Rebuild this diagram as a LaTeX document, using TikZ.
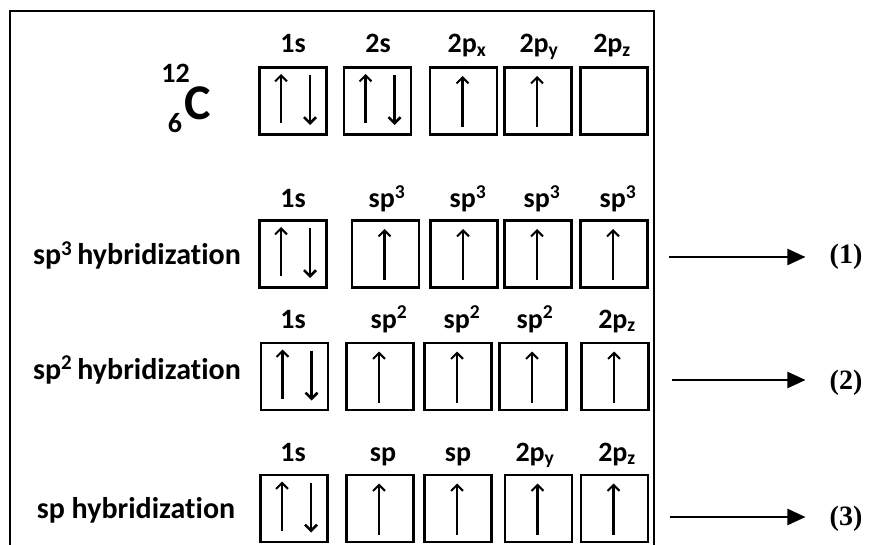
\documentclass[tikz,border=0pt]{standalone}
\usepackage{fontspec}
\setmainfont{Carlito}[Ligatures=NoCommon]
\newfontfamily\timesf{Liberation Serif}
\usetikzlibrary{arrows.meta,calc}
\newcommand\mysub[1]{\textsubscript{#1}}
\newcommand\mysup[1]{\textsuperscript{#1}}
\tikzset{
  orb/.style={draw, line width=2.6pt, minimum width=67pt, minimum height=67pt, inner sep=0pt},
  elecup/.style={line width=2.1pt, -{Straight Barb[length=6pt,width=12pt,line width=2.1pt]}},
  elecdn/.style={line width=2.5pt, -{Straight Barb[length=6pt,width=12pt,line width=2.5pt]}},
  lbl/.style={font=\bfseries\fontsize{28}{32}\selectfont, inner sep=0pt, anchor=base},
  hyb/.style={font=\bfseries\fontsize{30}{34}\selectfont, inner sep=0pt, anchor=base},
  num/.style={font=\timesf\bfseries\fontsize{28}{32}\selectfont, inner sep=0pt},
  conn/.style={line width=2.2pt, -{Triangle[length=18pt,width=16pt]}},
  frame/.style={line width=1.8pt}
}
\newcommand\myorb[4]{%
  \node[orb] (#1) at (#2,#3) {};
  \ifcase#4\relax
  \or \draw[elecup] ($(#1.center)+(-1,26)$) -- ($(#1.center)+(-1,-25)$);
  \or \draw[elecup] ($(#1.center)+(-12,22)$) -- ($(#1.center)+(-12,-27)$);
      \draw[elecdn] ($(#1.center)+(17,-26)$) -- ($(#1.center)+(17,24)$);
  \fi}
\begin{document}
\begin{tikzpicture}[x=1pt,y=-1pt]
\useasboundingbox (0,0) rectangle (870,545);
\fill[white] (0,0) rectangle (870,545);
% frame
\draw[frame] (10,545) -- (10,11) -- (654,11) -- (654,545);
% carbon
\node[font=\bfseries\fontsize{50}{54}\selectfont, inner sep=0pt, anchor=base] (cC) at (198,120) {C};
\node[lbl] (cA) at (175.5,83) {12};
\node[lbl] (cZ) at (175,133) {6};
% row 0
\myorb{a1}{293}{101}{2}
\myorb{a2}{377.5}{101}{2}
\myorb{a3}{463.5}{101}{1}
\myorb{a4}{538}{101}{1}
\myorb{a5}{614}{101}{0}
\node[lbl] (ta1) at (293,53) {1s};
\node[lbl] (ta2) at (378,53) {2s};
\node[lbl] (ta3) at (467,53) {2p\mysub{x}};
\node[lbl] (ta4) at (539,53) {2p\mysub{y}};
\node[lbl] (ta5) at (612,53) {2p\mysub{z}};
% row 1 sp3
\node[hyb] (h1) at (137,265) {sp\mysup{3}\,hybridization};
\myorb{b1}{293}{254}{2}
\myorb{b2}{385.5}{254}{1}
\myorb{b3}{464}{254}{1}
\myorb{b4}{538}{254}{1}
\myorb{b5}{614}{254}{1}
\node[lbl] (tb1) at (293,208) {1s};
\node[lbl] (tb2) at (387,208) {sp\mysup{3}};
\node[lbl] (tb3) at (468,208) {sp\mysup{3}};
\node[lbl] (tb4) at (542,208) {sp\mysup{3}};
\node[lbl] (tb5) at (618,208) {sp\mysup{3}};
% row 2 sp2
\node[hyb] (h2) at (137,379) {sp\mysup{2}\,hybridization};
\myorb{c1}{294.5}{376.5}{2}
\myorb{c2}{380}{376.5}{1}
\myorb{c3}{458}{376.5}{1}
\myorb{c4}{533}{376.5}{1}
\myorb{c5}{615}{376.5}{1}
\node[lbl] (tc1) at (293,328) {1s};
\node[lbl] (tc2) at (389,328) {sp\mysup{2}};
\node[lbl] (tc3) at (462,328) {sp\mysup{2}};
\node[lbl] (tc4) at (535,328) {sp\mysup{2}};
\node[lbl] (tc5) at (617,328) {2p\mysub{z}};
% row 3 sp
\node[hyb] (h3) at (136,518) {sp hybridization};
\myorb{d1}{294}{508.5}{2}
\myorb{d2}{380}{508.5}{1}
\myorb{d3}{458}{508.5}{1}
\myorb{d4}{538.5}{508.5}{1}
\myorb{d5}{614.5}{508.5}{1}
\node[lbl] (td1) at (293,461) {1s};
\node[lbl] (td2) at (383,461) {sp};
\node[lbl] (td3) at (458,461) {sp};
\node[lbl] (td4) at (535,461) {2p\mysub{y}};
\node[lbl] (td5) at (617,461) {2p\mysub{z}};
% outcome arrows
\node[num] (n1) at (846,257) {(1)};
\node[num] (n2) at (846,383) {(2)};
\node[num] (n3) at (846,519) {(3)};
\coordinate (s1) at (669,257);
\coordinate (s2) at (672,380);
\coordinate (s3) at (670,517);
\draw[conn, shorten >=24pt] (s1) -- (s1 -| n1.west);
\draw[conn, shorten >=24pt] (s2) -- (s2 -| n2.west);
\draw[conn, shorten >=24pt] (s3) -- (s3 -| n3.west);
\end{tikzpicture}
\end{document}
